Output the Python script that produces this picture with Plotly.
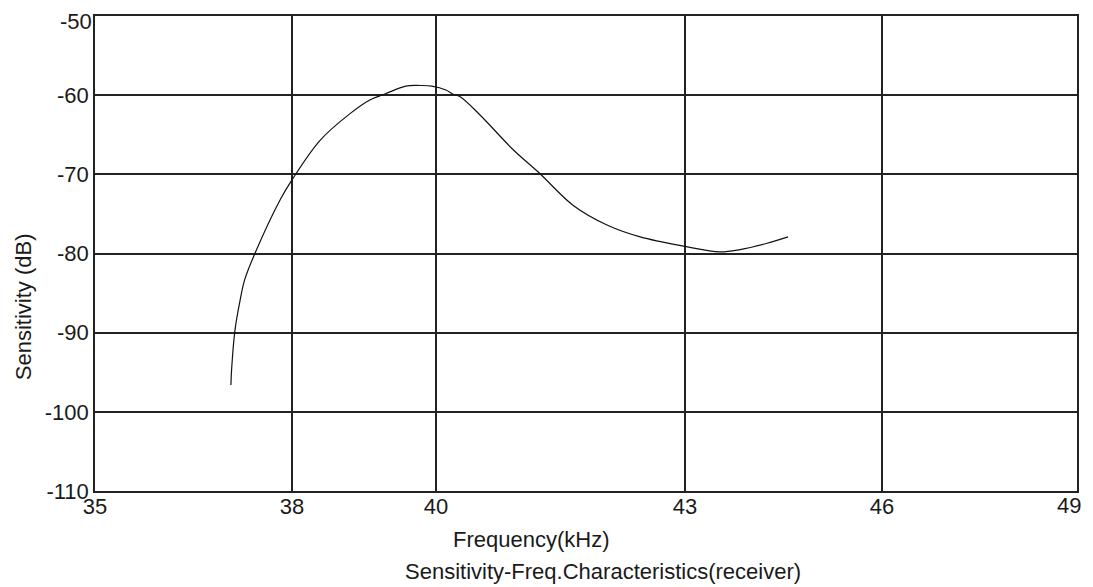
import numpy as np
import plotly.graph_objects as go

# ---- data ----
freq_khz = [37.07, 37.08, 37.13, 37.21, 37.28, 37.44, 37.82, 38.00, 38.39, 38.81,
            39.08, 39.29, 39.58, 39.78, 39.94, 40.12, 40.20, 40.29, 40.53, 40.93,
            41.25, 41.65, 42.06, 42.46, 43.00, 43.53, 43.84, 44.25, 44.57]
sens_db = [-96.6, -94.7, -89.8, -85.9, -83.3, -79.9, -73.2, -70.7, -65.7, -62.3,
           -60.6, -59.85, -58.85, -58.78, -58.85, -59.35, -59.85, -60.2, -62.5, -66.9,
           -69.9, -73.9, -76.4, -77.9, -79.1, -79.8, -79.5, -78.7, -77.9]

x_tick_labels = [35, 38, 40, 43, 46, 49]
y_tick_values = [-110, -100, -90, -80, -70, -60, -50]

# layout: the frequency axis in the reference is drawn with uneven spacing
x_tick_pos = [0.0, 2.006, 3.473, 6.008, 8.014, 10.0]

x_plot = np.interp(freq_khz, x_tick_labels, x_tick_pos)

FONT = "Liberation Sans, Arial, sans-serif"
TXT = "#1a1a1a"
GRID = "#222222"
FS = 22

fig = go.Figure()
fig.add_trace(go.Scatter(
    x=x_plot, y=sens_db, mode="lines",
    line=dict(color="#111111", width=1.2, shape="spline", smoothing=1.0),
    hoverinfo="skip", showlegend=False,
))

fig.update_layout(
    width=1085, height=579,
    margin=dict(l=87, r=16, t=8, b=96),
    paper_bgcolor="white", plot_bgcolor="white",
    font=dict(family=FONT, size=FS, color=TXT),
    showlegend=False,
)
# last x label (49) is placed as an annotation so it stays inside the page
x_text = [str(v) for v in x_tick_labels[:-1]] + [""]
fig.update_xaxes(
    range=[x_tick_pos[0], x_tick_pos[-1]],
    tickmode="array", tickvals=x_tick_pos, ticktext=x_text,
    showgrid=True, gridcolor=GRID, gridwidth=1.5,
    showline=True, linecolor=GRID, linewidth=1.5, mirror=True,
    zeroline=False, ticks="", ticklen=0, ticklabeloverflow="allow",
    ticklabelstandoff=-5,
    automargin=False,
    tickfont=dict(family=FONT, size=FS, color=TXT),
)
# top label (-50) is placed as an annotation so it stays inside the page
y_text = [str(v) for v in y_tick_values[:-1]] + [""]
fig.update_yaxes(
    range=[y_tick_values[0], y_tick_values[-1]],
    tickmode="array", tickvals=y_tick_values, ticktext=y_text,
    showgrid=True, gridcolor=GRID, gridwidth=1.5,
    showline=True, linecolor=GRID, linewidth=1.5, mirror=True,
    zeroline=False, ticks="", ticklen=0, ticklabeloverflow="allow",
    automargin=False,
    tickfont=dict(family=FONT, size=FS, color=TXT),
)
fig.add_annotation(text=str(y_tick_values[-1]), xref="paper", yref="paper",
                   x=0, y=1, xanchor="right", yanchor="top",
                   xshift=-2, yshift=8, borderpad=0, showarrow=False,
                   font=dict(family=FONT, size=FS, color=TXT))
fig.add_annotation(text=str(x_tick_labels[-1]), xref="paper", yref="paper",
                   x=1, y=-0.0295, xanchor="right", yanchor="middle",
                   xshift=5, borderpad=0, showarrow=False,
                   font=dict(family=FONT, size=FS, color=TXT))

fig.add_annotation(text="Frequency(kHz)", xref="paper", yref="paper",
                   x=0.444, y=-0.103, showarrow=False,
                   xanchor="center", yanchor="middle",
                   font=dict(family=FONT, size=FS, color=TXT))
fig.add_annotation(text="Sensitivity-Freq.Characteristics(receiver)", xref="paper", yref="paper",
                   x=0.517, y=-0.1705, showarrow=False,
                   xanchor="center", yanchor="middle",
                   font=dict(family=FONT, size=FS, color=TXT))
fig.add_annotation(text="Sensitivity (dB)", xref="paper", yref="paper",
                   x=-0.0733, y=0.387, showarrow=False, textangle=-90,
                   xanchor="center", yanchor="middle",
                   font=dict(family=FONT, size=FS, color=TXT))

fig.write_html("out.html")
